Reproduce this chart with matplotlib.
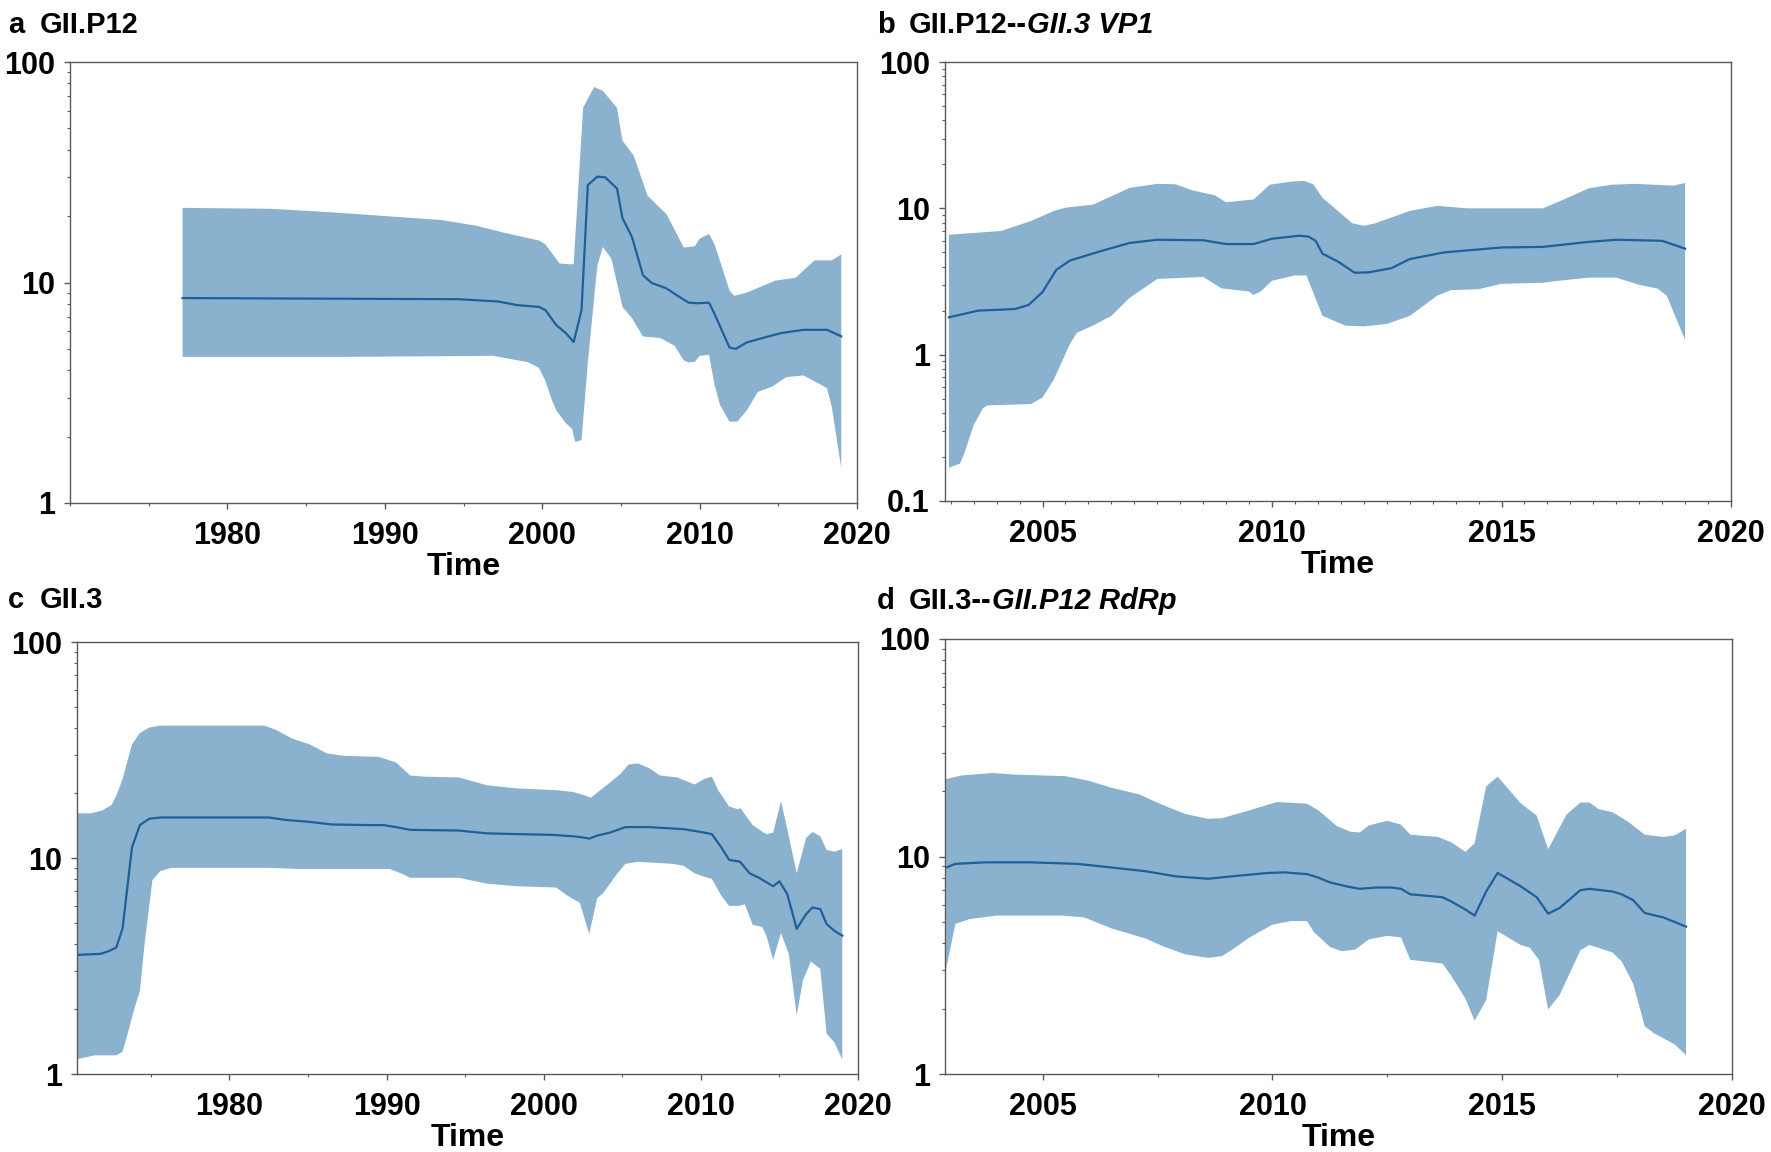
import numpy as np
import matplotlib
matplotlib.use("Agg")
import matplotlib.pyplot as plt
from matplotlib.ticker import MultipleLocator, LogLocator, NullFormatter

plt.rcParams['font.family'] = ['Liberation Sans', 'DejaVu Sans']
plt.rcParams['font.weight'] = 'bold'

FILL = '#8ab2cf'
LINE = '#1f5f9a'
SPINE = '#5a5a5a'

# ---- panel a : GII.P12 ----
a_up_t = [1977.15, 1982.7, 1986.7, 1991.8, 1993.6, 1995.8, 1997.6, 1999.8, 2000.2, 2001.1, 2001.7, 2002.0,
          2002.6, 2003.3, 2003.85, 2004.75, 2005.1, 2005.8, 2006.7, 2007.9, 2009.0, 2009.7, 2010.0, 2010.6,
          2010.95, 2011.9, 2012.2, 2013.0, 2014.8, 2016.1, 2017.3, 2018.4, 2019.0]
a_up = [21.8, 21.6, 20.8, 19.6, 19.2, 18.1, 16.8, 15.5, 14.9, 12.2, 12.1, 12.1,
        62, 77, 74, 62, 44, 37.8, 24.7, 20.4, 14.4, 14.6, 15.8, 16.6,
        14.9, 9.2, 8.7, 9.0, 10.2, 10.5, 12.6, 12.6, 13.4]
a_mid_t = [1977.15, 1994.7, 1997.2, 1998.4, 1999.8, 2000.2, 2000.9, 2001.5, 2002.0, 2002.5, 2002.9, 2003.5,
           2004.0, 2004.75, 2005.1, 2005.7, 2006.4, 2006.95, 2007.9, 2008.4, 2009.3, 2009.9, 2010.6, 2010.95,
           2011.9, 2012.3, 2013.0, 2014.4, 2015.2, 2016.6, 2018.1, 2019.0]
a_mid = [8.5, 8.4, 8.2, 7.9, 7.75, 7.5, 6.4, 5.9, 5.37, 7.5, 27.7, 30.2,
         30.0, 26.7, 19.6, 16.1, 10.8, 9.96, 9.4, 8.9, 8.1, 8.05, 8.1, 7.2,
         5.07, 5.0, 5.35, 5.7, 5.9, 6.1, 6.1, 5.7]
a_lo_t = [1977.15, 1987.4, 1996.9, 1997.6, 1999.1, 1999.8, 2000.2, 2000.6, 2000.9, 2001.5, 2001.9, 2002.1,
          2002.5, 2002.9, 2003.5, 2003.85, 2004.4, 2005.1, 2005.7, 2006.4, 2007.5, 2008.4, 2009.0, 2009.3,
          2009.7, 2010.0, 2010.6, 2010.95, 2011.3, 2011.9, 2012.4, 2013.0, 2013.7, 2014.6, 2015.5, 2016.6,
          2017.7, 2018.1, 2018.4, 2019.0]
a_lo = [4.6, 4.6, 4.65, 4.55, 4.35, 4.1, 3.58, 2.95, 2.63, 2.3, 2.17, 1.89,
        1.93, 4.34, 11.9, 14.5, 12.8, 7.75, 6.9, 5.69, 5.6, 5.17, 4.43, 4.34,
        4.37, 4.65, 4.7, 3.44, 2.78, 2.34, 2.34, 2.63, 3.19, 3.37, 3.72, 3.79,
        3.44, 3.31, 2.73, 1.44]

# ---- panel b : GII.P12--GII.3 VP1 ----
b_up_t = [2002.96, 2004.1, 2004.75, 2005.25, 2005.5, 2006.1, 2006.9, 2007.5, 2007.9, 2008.25, 2008.75, 2009.0,
          2009.6, 2009.95, 2010.4, 2010.7, 2010.9, 2011.1, 2011.75, 2012.0, 2012.25, 2013.0, 2013.6, 2014.25,
          2015.0, 2015.9, 2016.25, 2016.9, 2017.4, 2017.9, 2018.75, 2019.0]
b_up = [6.6, 7.0, 8.2, 9.6, 10.1, 10.6, 13.8, 14.7, 14.6, 13.3, 12.3, 11.0,
        11.5, 14.5, 15.2, 15.4, 14.6, 11.8, 7.9, 7.6, 7.9, 9.6, 10.4, 10.0,
        10.0, 10.0, 11.1, 13.7, 14.5, 14.7, 14.3, 14.9]
b_mid_t = [2002.96, 2003.6, 2004.4, 2004.7, 2005.0, 2005.3, 2005.6, 2006.25, 2006.9, 2007.5, 2008.5, 2009.0,
           2009.6, 2010.0, 2010.6, 2010.8, 2010.95, 2011.1, 2011.45, 2011.8, 2012.1, 2012.6, 2013.0, 2013.75,
           2015.0, 2015.9, 2016.9, 2017.5, 2018.5, 2019.0]
b_mid = [1.80, 2.0, 2.05, 2.19, 2.68, 3.8, 4.4, 5.08, 5.8, 6.1, 6.05, 5.7,
         5.7, 6.2, 6.5, 6.4, 6.0, 4.9, 4.3, 3.63, 3.65, 3.9, 4.5, 5.0,
         5.4, 5.45, 5.9, 6.1, 6.0, 5.3]
b_lo_t = [2002.96, 2003.2, 2003.3, 2003.5, 2003.7, 2003.8, 2004.75, 2005.0, 2005.25, 2005.6, 2005.75, 2006.1,
          2006.5, 2006.9, 2007.5, 2008.5, 2008.9, 2009.5, 2009.6, 2009.75, 2010.0, 2010.5, 2010.75, 2011.1,
          2011.6, 2012.0, 2012.5, 2013.0, 2013.6, 2013.9, 2014.5, 2015.0, 2015.9, 2016.25, 2016.9, 2017.5,
          2018.0, 2018.4, 2018.6, 2019.0]
b_lo = [0.169, 0.18, 0.213, 0.33, 0.43, 0.45, 0.46, 0.51, 0.68, 1.19, 1.41, 1.58,
        1.84, 2.45, 3.29, 3.4, 2.84, 2.7, 2.56, 2.7, 3.2, 3.48, 3.48, 1.84,
        1.58, 1.56, 1.62, 1.84, 2.53, 2.76, 2.8, 3.05, 3.1, 3.2, 3.36, 3.36,
        3.0, 2.83, 2.53, 1.26]

# ---- panel c : GII.3 ----
c_up_t = [1970.3, 1971.2, 1971.9, 1972.5, 1972.8, 1973.2, 1973.8, 1974.3, 1974.9, 1975.6, 1982.2, 1982.9,
          1984.0, 1985.1, 1986.2, 1987.3, 1989.5, 1990.6, 1991.5, 1992.4, 1994.6, 1996.4, 1998.3, 2000.8,
          2001.9, 2002.7, 2003.0, 2003.6, 2004.2, 2004.9, 2005.4, 2006.0, 2006.7, 2007.4, 2008.5, 2009.6,
          2010.2, 2010.7, 2011.1, 2011.8, 2012.4, 2012.5, 2013.3, 2014.0, 2014.2, 2014.6, 2015.1, 2015.5,
          2016.1, 2016.7, 2017.1, 2017.6, 2018.0, 2018.5, 2019.0]
c_up = [16.1, 16.1, 16.6, 17.6, 19.4, 23.2, 33.6, 37.9, 40.2, 41, 41, 39.4,
        35.7, 33.6, 30.5, 29.7, 29.4, 27.7, 24.1, 23.8, 23.6, 21.7, 21.0, 20.6,
        20.2, 19.4, 19.0, 20.6, 22.3, 24.6, 27.1, 27.4, 26.1, 24.1, 23.6, 21.9,
        23.2, 23.8, 20.6, 17.3, 16.8, 17.1, 14.2, 13.1, 12.9, 13.1, 18.3, 13.6,
        8.5, 12.4, 13.2, 12.6, 10.9, 10.7, 11.0]
c_mid_t = [1970.3, 1971.8, 1972.3, 1972.8, 1973.2, 1973.8, 1974.3, 1974.9, 1975.6, 1982.5, 1983.6, 1985.1,
           1986.5, 1988.8, 1989.8, 1990.6, 1991.5, 1994.6, 1996.4, 2000.5, 2001.9, 2002.3, 2002.9, 2003.4,
           2004.2, 2005.2, 2006.7, 2008.9, 2010.0, 2010.7, 2011.3, 2011.8, 2012.2, 2012.5, 2013.1, 2013.7,
           2014.6, 2015.0, 2015.5, 2016.1, 2016.7, 2017.1, 2017.6, 2018.0, 2018.5, 2019.0]
c_mid = [3.56, 3.6, 3.7, 3.85, 4.72, 11.2, 14.2, 15.2, 15.4, 15.4, 15.0, 14.7,
         14.3, 14.2, 14.2, 13.9, 13.5, 13.4, 13.0, 12.8, 12.6, 12.5, 12.3, 12.7,
         13.1, 13.9, 13.9, 13.6, 13.2, 12.9, 11.2, 9.8, 9.7, 9.6, 8.5, 8.1,
         7.4, 7.8, 6.8, 4.7, 5.5, 5.9, 5.8, 4.95, 4.6, 4.37]
c_lo_t = [1970.3, 1971.4, 1972.8, 1973.2, 1973.5, 1973.9, 1974.3, 1974.6, 1975.1, 1975.6, 1976.3, 1982.5,
          1984.4, 1986.2, 1990.2, 1990.9, 1991.5, 1994.6, 1996.4, 1998.3, 2000.8, 2001.5, 2002.3, 2002.9,
          2003.4, 2003.8, 2004.7, 2005.2, 2006.0, 2008.2, 2008.9, 2009.6, 2010.2, 2010.7, 2011.3, 2011.8,
          2012.4, 2012.8, 2013.3, 2013.9, 2014.2, 2014.6, 2015.1, 2015.6, 2016.1, 2016.5, 2017.0, 2017.6,
          2018.0, 2018.5, 2019.0]
c_lo = [1.17, 1.22, 1.22, 1.27, 1.51, 1.95, 2.42, 4.0, 7.9, 8.7, 9.0, 9.0,
        8.9, 8.9, 8.9, 8.5, 8.1, 8.1, 7.6, 7.4, 7.3, 6.7, 6.2, 4.45,
        6.5, 6.9, 8.5, 9.4, 9.6, 9.4, 9.2, 8.5, 8.2, 8.0, 6.7, 6.0,
        6.0, 6.1, 4.9, 4.8, 4.3, 3.38, 4.5, 3.59, 1.87, 2.72, 3.32, 3.07,
        1.54, 1.4, 1.17]

# ---- panel d : GII.3--GII.P12 RdRp ----
d_up_t = [2002.9, 2003.25, 2003.9, 2004.4, 2005.5, 2006.0, 2006.5, 2007.1, 2007.6, 2008.1, 2008.6, 2008.9,
          2009.5, 2009.9, 2010.1, 2010.75, 2011.0, 2011.4, 2011.7, 2011.9, 2012.1, 2012.5, 2012.8, 2013.0,
          2013.6, 2013.9, 2014.2, 2014.4, 2014.65, 2014.9, 2015.4, 2015.75, 2016.0, 2016.4, 2016.7, 2016.9,
          2017.1, 2017.4, 2017.75, 2018.1, 2018.5, 2018.75, 2019.0]
d_up = [22.7, 23.6, 24.2, 23.8, 23.4, 22.3, 20.7, 19.3, 17.3, 15.7, 14.9, 15.0,
        16.3, 17.3, 17.8, 17.5, 16.3, 13.8, 13.0, 12.9, 13.9, 14.6, 14.0, 12.6,
        12.3, 11.6, 10.5, 11.5, 21.0, 23.3, 17.6, 15.4, 10.8, 15.6, 17.7, 17.7,
        16.5, 16.0, 14.4, 12.6, 12.3, 12.5, 13.4]
d_mid_t = [2002.9, 2003.1, 2003.75, 2004.75, 2005.75, 2006.5, 2007.25, 2007.9, 2008.6, 2009.1, 2009.9, 2010.25,
           2010.75, 2011.0, 2011.25, 2011.6, 2011.9, 2012.25, 2012.6, 2012.8, 2013.0, 2013.7, 2013.9, 2014.2,
           2014.4, 2014.65, 2014.9, 2015.4, 2015.75, 2016.0, 2016.25, 2016.7, 2016.9, 2017.4, 2017.6, 2017.85,
           2018.1, 2018.5, 2019.0]
d_mid = [8.9, 9.25, 9.4, 9.4, 9.25, 8.9, 8.55, 8.1, 7.9, 8.1, 8.4, 8.45,
         8.3, 8.0, 7.6, 7.3, 7.1, 7.2, 7.2, 7.1, 6.7, 6.5, 6.2, 5.7,
         5.35, 6.9, 8.4, 7.3, 6.5, 5.46, 5.8, 7.0, 7.1, 6.9, 6.7, 6.3,
         5.5, 5.25, 4.76]
d_lo_t = [2002.9, 2003.1, 2003.4, 2004.0, 2005.4, 2005.9, 2006.5, 2007.25, 2007.6, 2008.1, 2008.6, 2008.9,
          2009.1, 2009.5, 2010.0, 2010.4, 2010.75, 2010.9, 2011.25, 2011.5, 2011.8, 2012.1, 2012.5, 2012.8,
          2013.0, 2013.7, 2013.9, 2014.2, 2014.4, 2014.65, 2014.9, 2015.4, 2015.6, 2015.8, 2016.0, 2016.25,
          2016.7, 2016.9, 2017.4, 2017.6, 2017.85, 2018.1, 2018.3, 2018.75, 2019.0]
d_lo = [3.04, 4.9, 5.15, 5.35, 5.35, 5.25, 4.67, 4.19, 3.88, 3.55, 3.42, 3.48,
        3.7, 4.24, 4.86, 5.05, 5.05, 4.5, 3.84, 3.67, 3.73, 4.16, 4.32, 4.24,
        3.35, 3.22, 2.81, 2.22, 1.76, 2.18, 4.53, 3.92, 3.81, 3.35, 1.98, 2.31,
        3.7, 3.92, 3.62, 3.29, 2.6, 1.66, 1.54, 1.37, 1.22]

W, H = 1771, 1152
fig = plt.figure(figsize=(W / 100, H / 100), dpi=100)


def px_axes(l, t, r, b):
    return fig.add_axes([l / W, 1 - b / H, (r - l) / W, (b - t) / H])


def draw_panel(ax, up_t, up, mid_t, mid, lo_t, lo, xlim, ylim, yticks, xmajor, xminor):
    ax.fill(np.concatenate([up_t, lo_t[::-1]]), np.concatenate([up, lo[::-1]]),
            color=FILL, lw=0, zorder=1)
    ax.plot(mid_t, mid, color=LINE, lw=1.6, zorder=2)
    ax.set_yscale('log')
    ax.set_xlim(*xlim)
    ax.set_ylim(*ylim)
    ax.set_yticks(yticks)
    ax.set_yticklabels([('%g' % v) for v in yticks])
    ax.yaxis.set_minor_locator(LogLocator(base=10, subs=np.arange(2, 10)))
    ax.yaxis.set_minor_formatter(NullFormatter())
    ax.xaxis.set_major_locator(MultipleLocator(xmajor))
    ax.xaxis.set_minor_locator(MultipleLocator(xminor))
    for s in ax.spines.values():
        s.set_color(SPINE)
        s.set_linewidth(1.0)
    ax.tick_params(which='major', length=4, width=1, color=SPINE, labelsize=22)
    ax.tick_params(which='minor', length=2.5, width=0.8, color=SPINE)
    ax.tick_params(axis='x', which='major', pad=9)
    ax.tick_params(axis='y', which='major', pad=7)
    for lab in ax.get_xticklabels() + ax.get_yticklabels():
        lab.set_fontweight('bold')
    ax.set_xlabel('Time', fontsize=23, fontweight='bold', labelpad=1)


ax_a = px_axes(70, 62, 857, 503)
draw_panel(ax_a, a_up_t, a_up, a_mid_t, a_mid, a_lo_t, a_lo,
           (1970, 2020), (1, 100), [1, 10, 100], 10, 5)
ax_a.set_xticks([1980, 1990, 2000, 2010, 2020])

ax_b = px_axes(945, 62, 1731, 501)
draw_panel(ax_b, b_up_t, b_up, b_mid_t, b_mid, b_lo_t, b_lo,
           (2002.875, 2020), (0.1, 100), [0.1, 1, 10, 100], 5, 0.5)

ax_c = px_axes(77, 642, 858, 1074)
draw_panel(ax_c, c_up_t, c_up, c_mid_t, c_mid, c_lo_t, c_lo,
           (1970.3, 2020), (1, 100), [1, 10, 100], 10, 5)
ax_c.set_xticks([1980, 1990, 2000, 2010, 2020])

ax_d = px_axes(945, 639, 1732, 1074)
draw_panel(ax_d, d_up_t, d_up, d_mid_t, d_mid, d_lo_t, d_lo,
           (2002.875, 2020), (1, 100), [1, 10, 100], 5, 2.5)

renderer = fig.canvas.get_renderer()


def panel_title(x, y, letter, plain, italic=None):
    fig.text(x / W, 1 - y / H, letter, fontsize=21, fontweight='bold', va='baseline')
    t = fig.text((x + 32) / W, 1 - y / H, plain, fontsize=21, fontweight='bold', va='baseline')
    if italic:
        bb = t.get_window_extent(renderer)
        fig.text(bb.x1 / W, 1 - y / H, italic, fontsize=21, fontweight='bold',
                 style='italic', va='baseline')


panel_title(8, 33, 'a', 'GII.P12')
panel_title(877, 33, 'b', 'GII.P12--', 'GII.3 VP1')
panel_title(8, 608, 'c', 'GII.3')
panel_title(877, 609, 'd', 'GII.3--', 'GII.P12 RdRp')

fig.savefig('out.png', dpi=100)
